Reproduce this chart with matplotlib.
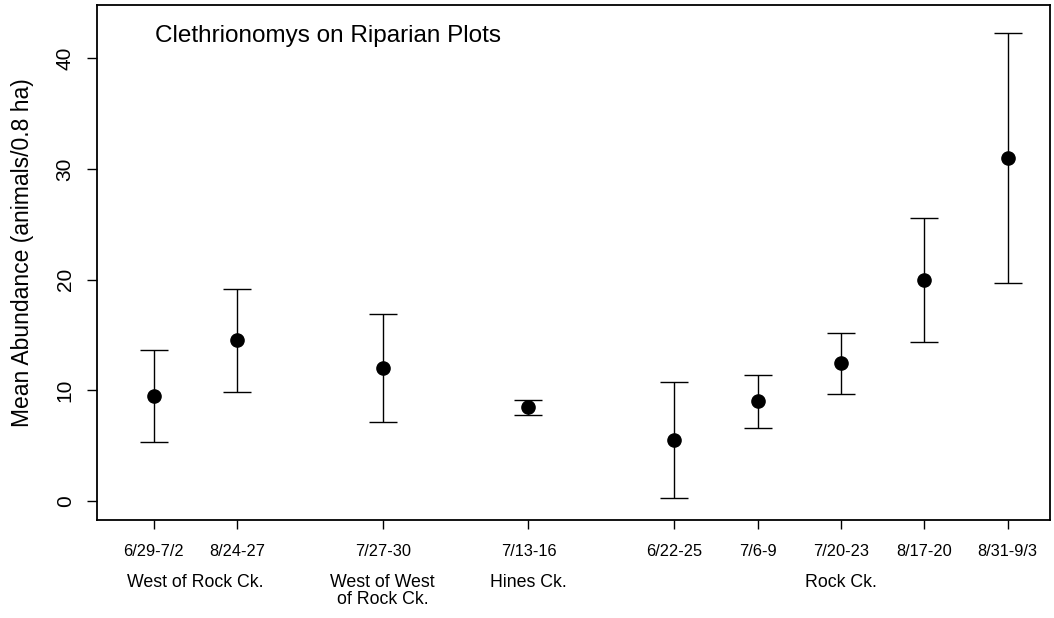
import numpy as np
import matplotlib
matplotlib.use("Agg")
from matplotlib import pyplot as plt
from matplotlib import transforms

plt.rcParams['font.family'] = ['Liberation Sans', 'DejaVu Sans']

# Data
dates = ["6/29-7/2", "8/24-27", "7/27-30", "7/13-16", "6/22-25",
         "7/6-9", "7/20-23", "8/17-20", "8/31-9/3"]
positions = [1, 2, 3.75, 5.5, 7.25, 8.25, 9.25, 10.25, 11.25]
means = [9.5, 14.5, 12.0, 8.5, 5.5, 9.0, 12.5, 20.0, 31.0]
lower = [5.3, 9.8, 7.1, 7.8, 0.3, 6.6, 9.7, 14.35, 19.7]
upper = [13.65, 19.15, 16.9, 9.1, 10.7, 11.35, 15.2, 25.6, 42.3]
group_names = ["West of Rock Ck.", "West of West\nof Rock Ck.", "Hines Ck.", "Rock Ck."]
group_members = [[0, 1], [2], [3], [4, 5, 6, 7, 8]]

means = np.array(means)
err = np.vstack([means - np.array(lower), np.array(upper) - means])

fig = plt.figure(figsize=(10.54, 6.18), dpi=100)
ax = fig.add_axes([0.092, 0.1586, 0.9042, 0.8333])

ax.errorbar(positions, means, yerr=err, fmt='o', color='black', ecolor='black',
            elinewidth=1.0, capsize=10, capthick=1.0, markersize=9.5)

ax.set_xlim(0.32, 11.76)
ax.set_ylim(-1.72, 44.8)

ax.set_xticks(positions)
ax.set_xticklabels(dates, fontsize=11.8)
ax.set_yticks([0, 10, 20, 30, 40])
ax.set_yticklabels(["0", "10", "20", "30", "40"], fontsize=15, rotation=90, va='center')
ax.tick_params(axis='x', direction='out', length=6.5, width=1.0, pad=11)
ax.tick_params(axis='y', direction='out', length=7, width=1.0, pad=9)
for s in ax.spines.values():
    s.set_linewidth(1.3)

ax.set_ylabel("Mean Abundance (animals/0.8 ha)", fontsize=16.5)
ax.yaxis.set_label_coords(-0.066, 0.52)

ax.text(0.061, 0.94, "Clethrionomys on Riparian Plots", transform=ax.transAxes,
        fontsize=17.5, ha='left', va='center')

# group labels below the date labels
trans = transforms.blended_transform_factory(ax.transData, ax.transAxes)
for name, members in zip(group_names, group_members):
    xc = np.mean([positions[i] for i in members])
    ax.text(xc, -0.105, name, transform=trans, ha='center', va='top',
            fontsize=12.8, linespacing=0.98)

fig.savefig("out.png", dpi=100)
